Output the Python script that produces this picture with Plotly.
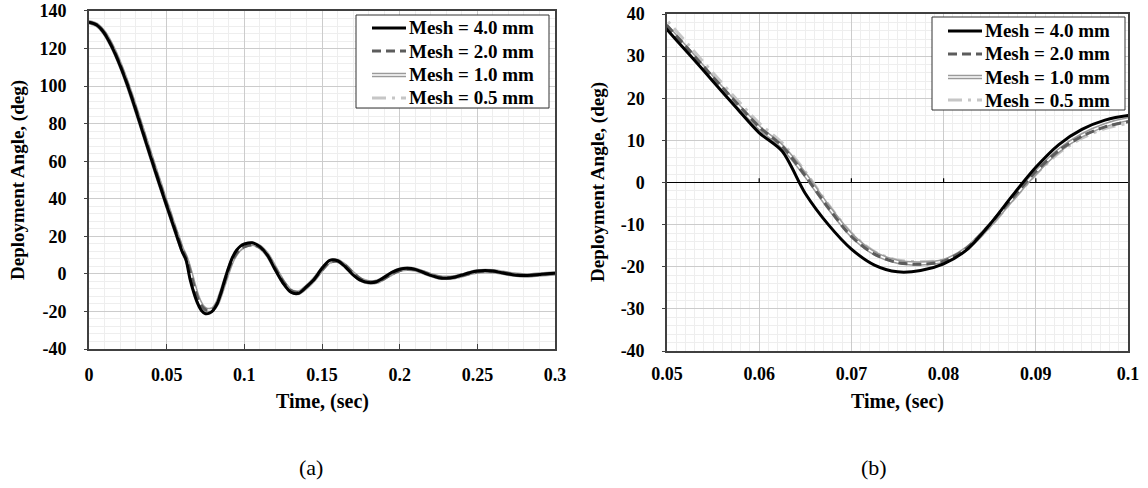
import plotly.graph_objects as go

# Time samples (s): coarse at start, finer through the first swing, then every 5 ms
time_s = [
    0.000, 0.005, 0.010, 0.015, 0.020, 0.025, 0.030, 0.035, 0.040, 0.045, 0.050,
    0.0525, 0.055, 0.0575, 0.060, 0.0625, 0.065, 0.0675, 0.070, 0.0725, 0.075,
    0.0775, 0.080, 0.0825, 0.085, 0.0875, 0.090, 0.0925, 0.095, 0.0975,
    0.100, 0.105, 0.110, 0.115, 0.120, 0.125, 0.130, 0.135, 0.140, 0.145,
    0.150, 0.155, 0.160, 0.165, 0.170, 0.175, 0.180, 0.185, 0.190, 0.195,
    0.200, 0.205, 0.210, 0.215, 0.220, 0.225, 0.230, 0.235, 0.240, 0.245,
    0.250, 0.255, 0.260, 0.265, 0.270, 0.275, 0.280, 0.285, 0.290, 0.295, 0.300,
]

# Deployment angle (deg) for each mesh size
angle_mesh_4_0 = [
    134.0, 132.5, 128.0, 120.5, 111.0, 100.0, 87.5, 74.5, 61.5, 48.8, 36.3,
    30.2, 24.0, 17.8, 11.8, 7.4, -2.6, -10.0, -15.8, -19.6, -21.2,
    -20.9, -19.3, -16.0, -10.0, -3.0, 3.6, 9.0, 12.6, 14.8,
    15.9, 16.6, 14.5, 9.8, 2.0, -5.0, -9.8, -10.3, -6.8, -2.8,
    3.0, 7.2, 7.0, 3.8, -0.5, -3.5, -4.6, -4.2, -1.8, 0.8,
    2.5, 3.0, 2.4, 0.8, -0.8, -2.0, -2.3, -1.8, -0.6, 0.6,
    1.5, 1.8, 1.5, 0.7, -0.1, -0.7, -0.9, -0.7, -0.3, 0.1, 0.3,
]
angle_mesh_2_0 = [
    134.0, 132.6, 128.3, 121.0, 111.6, 100.7, 88.3, 75.4, 62.5, 49.8, 37.3,
    31.2, 25.0, 19.0, 13.2, 8.6, 1.6, -6.0, -12.8, -17.0, -19.0,
    -19.4, -18.7, -15.6, -10.0, -3.6, 2.6, 7.6, 11.0, 13.2,
    14.4, 15.5, 14.0, 9.8, 2.8, -4.0, -8.8, -9.8, -7.0, -3.0,
    2.2, 6.2, 6.8, 4.5, 0.5, -2.8, -4.3, -4.2, -2.5, 0.0,
    1.8, 2.6, 2.3, 1.0, -0.5, -1.6, -2.0, -1.8, -0.9, 0.2,
    1.1, 1.5, 1.4, 0.9, 0.2, -0.4, -0.7, -0.6, -0.3, 0.0, 0.2,
]
angle_mesh_1_0 = [
    134.0, 132.6, 128.2, 120.9, 111.5, 100.5, 88.1, 75.2, 62.2, 49.5, 37.0,
    30.9, 24.7, 18.7, 13.0, 8.5, 1.8, -5.8, -12.5, -16.8, -18.8,
    -19.2, -18.6, -15.7, -10.2, -3.8, 2.4, 7.6, 11.2, 13.6,
    15.0, 16.0, 14.4, 10.0, 2.8, -4.3, -9.2, -10.0, -7.0, -2.9,
    2.5, 6.6, 6.9, 4.2, 0.2, -3.1, -4.4, -4.2, -2.2, 0.4,
    2.2, 2.8, 2.3, 0.9, -0.6, -1.8, -2.1, -1.8, -0.8, 0.4,
    1.3, 1.6, 1.4, 0.8, 0.1, -0.5, -0.8, -0.7, -0.3, 0.0, 0.2,
]
angle_mesh_0_5 = [
    134.0, 132.7, 128.5, 121.3, 112.0, 101.3, 89.0, 76.2, 63.5, 51.0, 38.5,
    32.3, 26.0, 19.9, 14.1, 9.4, 2.6, -5.2, -12.0, -16.4, -18.4,
    -18.8, -18.4, -15.8, -10.6, -4.2, 1.9, 7.0, 10.5, 12.8,
    14.0, 15.2, 13.9, 10.0, 3.2, -3.6, -8.5, -9.6, -7.1, -3.2,
    1.9, 5.9, 6.7, 4.7, 0.8, -2.5, -4.1, -4.2, -2.7, -0.3,
    1.6, 2.5, 2.3, 1.2, -0.3, -1.4, -1.9, -1.8, -1.0, 0.0,
    0.9, 1.4, 1.4, 1.0, 0.4, -0.2, -0.6, -0.6, -0.4, -0.1, 0.2,
]

series_names = ["Mesh = 4.0 mm", "Mesh = 2.0 mm", "Mesh = 1.0 mm", "Mesh = 0.5 mm"]

# Tick values and labels for both panels
xa_ticks = [0, 0.05, 0.1, 0.15, 0.2, 0.25, 0.3]
xa_labels = ["0", "0.05", "0.1", "0.15", "0.2", "0.25", "0.3"]
ya_ticks = [-40, -20, 0, 20, 40, 60, 80, 100, 120, 140]
ya_labels = ["-40", "-20", "0", "20", "40", "60", "80", "100", "120", "140"]
xb_ticks = [0.05, 0.06, 0.07, 0.08, 0.09, 0.1]
xb_labels = ["0.05", "0.06", "0.07", "0.08", "0.09", "0.1"]
yb_ticks = [-40, -30, -20, -10, 0, 10, 20, 30, 40]
yb_labels = ["-40", "-30", "-20", "-10", "0", "10", "20", "30", "40"]

W, H = 1148, 488
FONT = "Liberation Serif"
BORDER = "#404040"
GRID = "#cccccc"
MINOR = "#eeeeee"

styles = [
    dict(color="black", width=3),
    dict(color="#5c5c5c", width=3, dash="9px,5px"),
    dict(color="#9a9a9a", width=4.5),
    dict(color="#c6c6c6", width=3, dash="14px,6px,3px,6px"),
]
DOUBLE = 2  # index of the series drawn as an outlined (double) line
CORE = dict(color="white", width=1.5)
series = [angle_mesh_4_0, angle_mesh_2_0, angle_mesh_1_0, angle_mesh_0_5]

fig = go.Figure()
for xref, yref in [("x", "y"), ("x2", "y2")]:
    # finest mesh drawn first so the coarse-mesh curve sits on top
    for i in reversed(range(4)):
        fig.add_trace(go.Scatter(
            x=time_s, y=series[i], name=series_names[i], mode="lines",
            line=dict(shape="spline", smoothing=0.8, **styles[i]),
            xaxis=xref, yaxis=yref, showlegend=False, hoverinfo="skip",
        ))
        if i == DOUBLE:
            fig.add_trace(go.Scatter(
                x=time_s, y=series[i], mode="lines", showlegend=False,
                line=dict(shape="spline", smoothing=0.8, **CORE),
                xaxis=xref, yaxis=yref, hoverinfo="skip",
            ))

tickfont = dict(family=FONT, size=18, color="black", weight="bold")
common = dict(
    showline=True, linecolor=BORDER, linewidth=1.5, mirror=True,
    showgrid=True, gridcolor=GRID, gridwidth=1, zeroline=False,
    tickfont=tickfont, tickmode="array", automargin=False,
)

fig.update_layout(
    width=W, height=H,
    margin=dict(l=0, r=0, t=0, b=0, autoexpand=False),
    paper_bgcolor="white", plot_bgcolor="white",
    font=dict(family=FONT, color="black"),
    showlegend=False,
    xaxis=dict(domain=[0.0775, 0.4835], range=[0, 0.3], anchor="y",
               tickvals=xa_ticks, ticktext=xa_labels,
               ticks="inside", ticklen=5, tickcolor=BORDER, ticklabelstandoff=9,
               minor=dict(dtick=0.01, showgrid=True, gridcolor=MINOR, ticks=""),
               **common),
    yaxis=dict(domain=[0.2848, 0.9775], range=[-40, 140], anchor="x",
               tickvals=ya_ticks, ticktext=ya_labels,
               ticks="outside", ticklen=3, tickcolor=BORDER, ticklabelstandoff=14,
               minor=dict(dtick=4, showgrid=True, gridcolor=MINOR, ticks=""),
               **common),
    xaxis2=dict(domain=[0.581, 0.9826], range=[0.05, 0.1], anchor="y2",
                tickvals=xb_ticks, ticktext=xb_labels,
                ticks="", ticklabelstandoff=6,
                minor=dict(dtick=0.001, showgrid=True, gridcolor=MINOR, ticks=""),
                **common),
    yaxis2=dict(domain=[0.2807, 0.9713], range=[-40, 40], anchor="x2",
                tickvals=yb_ticks, ticktext=yb_labels,
                ticks="outside", ticklen=3, tickcolor=BORDER, ticklabelstandoff=14,
                minor=dict(dtick=2, showgrid=True, gridcolor=MINOR, ticks=""),
                **common),
)

# panel (b): horizontal axis line through zero with small upward ticks
fig.update_layout(yaxis2=dict(zeroline=True, zerolinecolor="black", zerolinewidth=1.2))
for tv in xb_ticks[1:-1]:
    fig.add_shape(type="line", xref="x2", yref="y2", x0=tv, x1=tv, y0=0, y1=1,
                  line=dict(color="black", width=1.2), layer="above")


def px(x):
    return x / W


def py(y):
    return 1 - y / H


def add_key(left, top, rows):
    """Boxed key listing each mesh size with its line style."""
    fig.add_shape(type="rect", xref="paper", yref="paper",
                  x0=px(left), x1=px(left + 193), y0=py(top), y1=py(top + 93),
                  line=dict(color="#333333", width=1), fillcolor="white", layer="above")
    for i, ry in enumerate(rows):
        seg = dict(type="line", xref="paper", yref="paper",
                   x0=px(left + 16), x1=px(left + 50), y0=py(ry), y1=py(ry), layer="above")
        fig.add_shape(line=styles[i], **seg)
        if i == DOUBLE:
            fig.add_shape(line=CORE, **seg)
        fig.add_annotation(text=series_names[i], xref="paper", yref="paper",
                           x=px(left + 51), y=py(ry), xanchor="left", yanchor="middle",
                           showarrow=False,
                           font=dict(family=FONT, size=19, color="black", weight="bold"))


add_key(356, 15, [28, 51, 75, 98])
add_key(932, 17, [31, 54, 77, 100])

title_font = dict(family=FONT, size=19, color="black", weight="bold")
notes = [
    dict(text="Deployment Angle, (deg)", x=px(18), y=py(180), textangle=-90,
         font=title_font),
    dict(text="Deployment Angle, (deg)", x=px(598), y=py(182), textangle=-90,
         font=title_font),
    dict(text="Time, (sec)", x=px(322), y=py(401), textangle=0,
         font=dict(title_font, size=20)),
    dict(text="Time, (sec)", x=px(897), y=py(401), textangle=0,
         font=dict(title_font, size=20)),
]
for n in notes:
    fig.add_annotation(xref="paper", yref="paper", showarrow=False,
                       xanchor="center", yanchor="middle", **n)
for lbl, xc in [("(a)", 311), ("(b)", 874)]:
    fig.add_annotation(text=lbl, xref="paper", yref="paper", x=px(xc), y=py(467),
                       showarrow=False, xanchor="center", yanchor="middle",
                       font=dict(family=FONT, size=22, color="black"))

fig.write_html("out.html")
